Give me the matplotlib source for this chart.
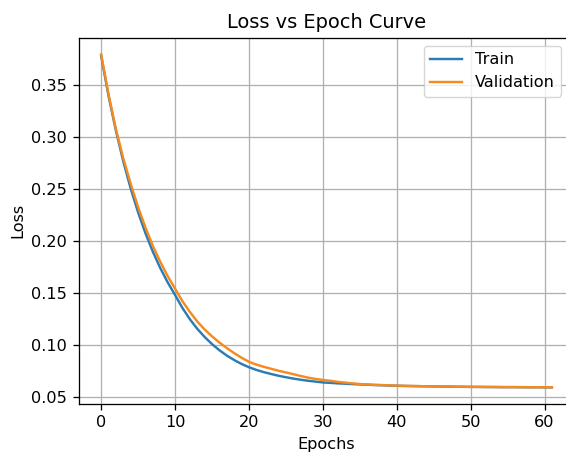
import matplotlib
matplotlib.use("Agg")
import matplotlib.pyplot as plt

epochs = list(range(62))

train_loss = [
    0.3775, 0.3391, 0.3057, 0.2762, 0.2503, 0.2275, 0.2074, 0.1897, 0.1741, 0.1604,
    0.1483, 0.1358, 0.1251, 0.1159, 0.1080, 0.1012, 0.0953, 0.0902, 0.0859, 0.0821,
    0.0790, 0.0764, 0.0743, 0.0725, 0.0708, 0.0694, 0.0681, 0.0670, 0.0660, 0.0652,
    0.0644, 0.0640, 0.0635, 0.0632, 0.0628, 0.0625, 0.0622, 0.0619, 0.0617, 0.0614,
    0.0612, 0.0610, 0.0609, 0.0608, 0.0607, 0.0606, 0.0605, 0.0604, 0.0603, 0.0602,
    0.0601, 0.0601, 0.0600, 0.0600, 0.0599, 0.0599, 0.0599, 0.0598, 0.0598, 0.0598,
    0.0597, 0.0597,
]

val_loss = [
    0.3790, 0.3406, 0.3072, 0.2792, 0.2548, 0.2325, 0.2129, 0.1952, 0.1801, 0.1664,
    0.1543, 0.1423, 0.1321, 0.1229, 0.1152, 0.1086, 0.1027, 0.0974, 0.0925, 0.0881,
    0.0842, 0.0815, 0.0794, 0.0775, 0.0756, 0.0740, 0.0723, 0.0706, 0.0690, 0.0678,
    0.0668, 0.0660, 0.0650, 0.0642, 0.0635, 0.0629, 0.0624, 0.0621, 0.0619, 0.0616,
    0.0614, 0.0612, 0.0610, 0.0609, 0.0607, 0.0607, 0.0606, 0.0605, 0.0603, 0.0603,
    0.0602, 0.0601, 0.0601, 0.0600, 0.0600, 0.0599, 0.0599, 0.0599, 0.0598, 0.0598,
    0.0598, 0.0598,
]

s = 1.16
plt.rcParams.update({
    "font.family": "DejaVu Sans",
    "font.size": 10 * s,
    "axes.linewidth": 0.8 * s,
    "xtick.major.width": 0.8 * s,
    "ytick.major.width": 0.8 * s,
    "xtick.major.size": 3.5 * s,
    "ytick.major.size": 3.5 * s,
    "xtick.major.pad": 3.5 * s,
    "ytick.major.pad": 3.5 * s,
    "grid.linewidth": 0.8 * s,
})

fig = plt.figure(figsize=(5.66, 4.57), dpi=100)
ax = fig.add_axes([0.1389, 0.116, 0.876, 0.8015])

ax.plot(epochs, train_loss, color="#2b7bb4", linewidth=1.5 * s, label="Train")
ax.plot(epochs, val_loss, color="#f58a1f", linewidth=1.5 * s, label="Validation")

ax.set_xlim(-3.05, 64.05)
ax.set_title("Loss vs Epoch Curve", fontsize=12 * s, pad=6 * s)
ax.set_xlabel("Epochs", fontsize=10 * s, labelpad=4 * s)
ax.set_ylabel("Loss", fontsize=10 * s, labelpad=4 * s)
ax.set_xticks([0, 10, 20, 30, 40, 50, 60])
ax.set_yticks([0.05, 0.10, 0.15, 0.20, 0.25, 0.30, 0.35])
ax.grid(True)
ax.legend(loc="upper right", fontsize=10 * s, bbox_to_anchor=(0.99, 1.0))

fig.savefig("out.png", dpi=100)
